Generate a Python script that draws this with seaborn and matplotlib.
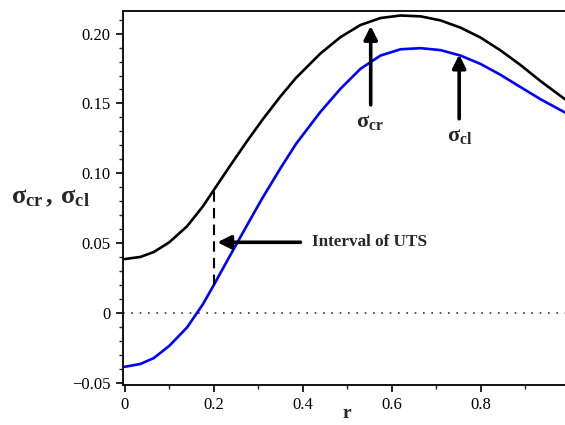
import numpy as np
import pandas as pd
import matplotlib
matplotlib.use("Agg")
import matplotlib.pyplot as plt
from matplotlib.ticker import MultipleLocator, FixedLocator
import seaborn as sns

# values
r = [0.0, 0.035, 0.065, 0.10, 0.14, 0.175, 0.20, 0.235, 0.275, 0.31, 0.35, 0.385,
     0.44, 0.485, 0.53, 0.575, 0.62, 0.665, 0.71, 0.755, 0.80, 0.845, 0.89, 0.935, 0.99]
sigma_cr = [0.0385, 0.0400, 0.0435, 0.0505, 0.0620, 0.0760, 0.0879, 0.1045, 0.1230, 0.1385,
            0.1550, 0.1683, 0.1858, 0.1975, 0.2062, 0.2112, 0.2130, 0.2124, 0.2095, 0.2043,
            0.1972, 0.1880, 0.1775, 0.1660, 0.1530]
sigma_cl = [-0.0387, -0.0367, -0.0325, -0.0237, -0.0105, 0.0058, 0.0198, 0.0400, 0.0628, 0.0825,
            0.1035, 0.1210, 0.1440, 0.1605, 0.1748, 0.1843, 0.1888, 0.1896, 0.1882, 0.1843,
            0.1783, 0.1705, 0.1617, 0.1530, 0.1435]
r_uts = 0.2
xticks = [0, 0.2, 0.4, 0.6, 0.8]
xtick_labels = ["0", "0.2", "0.4", "0.6", "0.8"]
yticks = [-0.05, 0, 0.05, 0.10, 0.15, 0.20]
ytick_labels = ["\u22120.05", "0", "0.05", "0.10", "0.15", "0.20"]

df = pd.DataFrame({"r": r, "cr": sigma_cr, "cl": sigma_cl})

sns.set_style("ticks")
plt.rcParams["font.family"] = ["Liberation Serif", "DejaVu Serif"]
plt.rcParams["mathtext.fontset"] = "custom"
plt.rcParams["mathtext.rm"] = "Liberation Serif:bold"
plt.rcParams["mathtext.it"] = "Liberation Serif:bold"
plt.rcParams["mathtext.bf"] = "Liberation Serif:bold"

fig = plt.figure(figsize=(5.65, 4.25), dpi=100)
ax = fig.add_axes([0.217, 0.094, 0.783, 0.881])

ax.axhline(0, color="#333333", lw=1.2, ls=(0, (1, 4)))
sns.lineplot(data=df, x="r", y="cr", ax=ax, color="black", lw=1.9)
sns.lineplot(data=df, x="r", y="cl", ax=ax, color="#0000ff", lw=1.9)

# dashed interval of UTS at r = 0.2
lo = sigma_cl[r.index(r_uts)]
hi = sigma_cr[r.index(r_uts)]
ax.plot([r_uts, r_uts], [lo, hi], color="black", lw=1.5, ls=(0, (5, 3)))

arrow = dict(arrowstyle="-|>", lw=2.6, color="black", mutation_scale=20, shrinkA=0, shrinkB=0)
ax.annotate("", xy=(0.208, 0.0505), xytext=(0.395, 0.0505), arrowprops=arrow)
ax.text(0.420, 0.0505, "Interval of UTS", fontsize=12.3, fontweight="bold", va="center", ha="left")

ax.annotate("", xy=(0.553, 0.2055), xytext=(0.553, 0.149), arrowprops=arrow)
ax.text(0.552, 0.143, r"$\sigma_{\rm cr}$", fontsize=16, ha="center", va="top")
ax.annotate("", xy=(0.752, 0.185), xytext=(0.752, 0.139), arrowprops=arrow)
ax.text(0.754, 0.133, r"$\sigma_{\rm cl}$", fontsize=16, ha="center", va="top")

ax.set_xlim(-0.005, 0.99)
ax.set_ylim(-0.0518, 0.2165)
ax.xaxis.set_major_locator(FixedLocator(xticks))
ax.set_xticklabels(xtick_labels)
ax.xaxis.set_minor_locator(MultipleLocator(0.1))
ax.yaxis.set_major_locator(FixedLocator(yticks))
ax.set_yticklabels(ytick_labels)
ax.yaxis.set_minor_locator(MultipleLocator(0.01))
ax.tick_params(which="major", direction="out", length=5, width=1.2, labelsize=12, colors="black")
ax.tick_params(which="minor", direction="out", length=3, width=1.0)

for s in ["left", "bottom", "top"]:
    ax.spines[s].set_linewidth(1.3)
    ax.spines[s].set_color("black")
ax.spines["right"].set_visible(False)

ax.set_xlabel("")
ax.set_ylabel("")
fig.text(0.614, 0.008, "r", fontsize=14, fontweight="bold", ha="center", va="bottom")
fig.text(0.02, 0.535, r"$\sigma_{\rm cr}\,,\,\sigma_{\rm cl}$", fontsize=19, ha="left", va="center")

fig.savefig("out.png", dpi=100)
